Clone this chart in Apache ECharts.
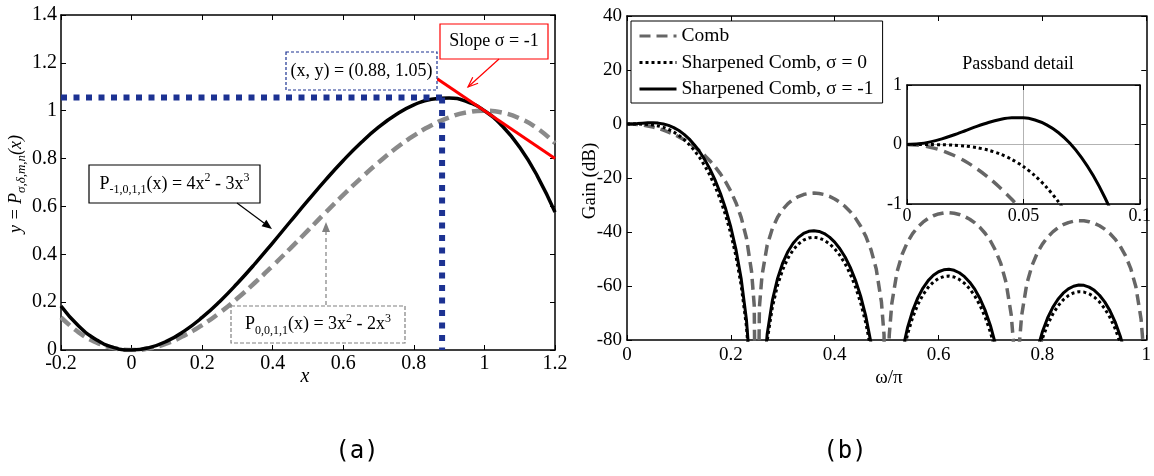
<!DOCTYPE html>
<html>
<head>
<meta charset="utf-8">
<script src="https://cdn.jsdelivr.net/npm/echarts@6/dist/echarts.min.js"></script>
<style>
html, body { margin: 0; padding: 0; background: #fff; }
#main { width: 1154px; height: 476px; }
</style>
</head>
<body>
<div id="main"></div>
<script>
// (a) sharpening polynomials
var xA = [-0.2, -0.15, -0.1, -0.05, 0, 0.05, 0.1, 0.15, 0.2, 0.25, 0.3, 0.35, 0.4, 0.45, 0.5, 0.55, 0.6, 0.65, 0.7, 0.75, 0.8, 0.85, 0.9, 0.95, 1, 1.05, 1.1, 1.15, 1.2];
var yPm1 = [0.184, 0.100, 0.043, 0.010, 0, 0.010, 0.037, 0.080, 0.136, 0.203, 0.279, 0.361, 0.448, 0.537, 0.625, 0.711, 0.792, 0.866, 0.931, 0.984, 1.024, 1.048, 1.053, 1.038, 1.000, 0.937, 0.847, 0.727, 0.576];
var yP0 = [0.136, 0.074, 0.032, 0.008, 0, 0.007, 0.028, 0.061, 0.104, 0.156, 0.216, 0.282, 0.352, 0.425, 0.500, 0.575, 0.648, 0.718, 0.784, 0.844, 0.896, 0.939, 0.972, 0.993, 1.000, 0.992, 0.968, 0.926, 0.864];
var refPoint = [0.88, 1.055];
var slopeX = [0.866, 1.2];
var slopeY = [1.134, 0.8];

// (b) comb responses, dB
var omega = [0, 0.01, 0.02, 0.03, 0.04, 0.05, 0.06, 0.07, 0.08, 0.09, 0.1, 0.11, 0.12, 0.13, 0.14, 0.15, 0.16, 0.17, 0.18, 0.19, 0.2, 0.21, 0.22, 0.23, 0.24, 0.245, 0.25, 0.255,
  0.26, 0.27, 0.28, 0.29, 0.3, 0.31, 0.32, 0.33, 0.34, 0.35, 0.36, 0.37, 0.38, 0.39, 0.4, 0.41, 0.42, 0.43, 0.44, 0.45, 0.46, 0.47, 0.48, 0.49, 0.495, 0.5, 0.505,
  0.51, 0.52, 0.53, 0.54, 0.55, 0.56, 0.57, 0.58, 0.59, 0.6, 0.61, 0.62, 0.63, 0.64, 0.65, 0.66, 0.67, 0.68, 0.69, 0.7, 0.71, 0.72, 0.73, 0.74, 0.745, 0.75, 0.755,
  0.76, 0.77, 0.78, 0.79, 0.8, 0.81, 0.82, 0.83, 0.84, 0.85, 0.86, 0.87, 0.88, 0.89, 0.9, 0.91, 0.92, 0.93, 0.94, 0.95, 0.96, 0.97, 0.98, 0.99, 0.995, 1];
var gainComb = [0, -0.045, -0.181, -0.407, -0.727, -1.140, -1.653, -2.266, -2.986, -3.817, -4.769, -5.848, -7.067, -8.439, -9.983, -11.72, -13.69, -15.92, -18.48, -21.44, -24.95, -29.23, -34.68, -42.23, -54.84, -67.2, -160, -67.84,
  -56.16, -44.87, -38.65, -34.55, -31.64, -29.51, -27.97, -26.86, -26.13, -25.72, -25.60, -25.74, -26.15, -26.82, -27.76, -29.00, -30.56, -32.49, -34.88, -37.86, -41.63, -46.61, -53.71, -65.91, -78.05, -160, -78.32,
  -66.45, -54.81, -48.25, -43.82, -40.60, -38.18, -36.35, -34.97, -33.98, -33.31, -32.95, -32.86, -33.04, -33.49, -34.23, -35.26, -36.62, -38.36, -40.56, -43.35, -46.94, -51.75, -58.69, -70.71, -82.77, -160, -82.89,
  -70.94, -59.14, -52.42, -47.85, -44.48, -41.92, -39.95, -38.44, -37.31, -36.51, -36.01, -35.79, -35.85, -36.17, -36.78, -37.69, -38.93, -40.55, -42.63, -45.30, -48.78, -53.46, -60.29, -72.20, -84.2, -160];
var gainSharp0 = [0, -0.001, -0.011, -0.053, -0.160, -0.370, -0.721, -1.249, -1.988, -2.968, -4.218, -5.763, -7.634, -9.862, -12.49, -15.55, -19.12, -23.27, -28.13, -33.85, -40.70, -49.12, -59.92, -74.97, -100.1, -124.9, -160, -126.1,
  -102.8, -80.2, -67.83, -59.66, -53.88, -49.68, -46.63, -44.45, -43.01, -42.20, -41.96, -42.25, -43.05, -44.37, -46.23, -48.67, -51.75, -55.59, -60.33, -66.25, -73.76, -83.67, -97.9, -122.3, -146.6, -160, -147.1,
  -123.4, -100.1, -86.95, -78.13, -71.71, -66.89, -63.24, -60.51, -58.53, -57.21, -56.48, -56.31, -56.67, -57.57, -59.02, -61.07, -63.78, -67.25, -71.64, -77.20, -84.34, -93.95, -107.8, -131.9, -156, -160, -156,
  -132.3, -108.7, -95.3, -86.15, -79.46, -74.35, -70.41, -67.40, -65.15, -63.56, -62.57, -62.14, -62.25, -62.90, -64.10, -65.91, -68.38, -71.61, -75.76, -81.09, -88.01, -97.4, -111.0, -134.9, -158.9, -160];
var gainSharpM1 = [0, 0.044, 0.159, 0.304, 0.420, 0.448, 0.330, 0.020, -0.522, -1.328, -2.427, -3.842, -5.603, -7.737, -10.28, -13.28, -16.80, -20.91, -25.72, -31.42, -38.24, -46.64, -57.44, -72.47, -97.6, -122.4, -160, -123.6,
  -100.3, -77.75, -65.34, -57.18, -51.40, -47.21, -44.16, -41.99, -40.55, -39.74, -39.50, -39.79, -40.59, -41.90, -43.76, -46.19, -49.27, -53.10, -57.85, -63.76, -71.27, -81.17, -95.4, -119.8, -144.1, -160, -144.6,
  -120.9, -97.57, -84.45, -75.63, -69.22, -64.40, -60.75, -58.02, -56.04, -54.73, -54.00, -53.83, -54.19, -55.09, -56.54, -58.58, -61.29, -64.76, -69.14, -74.70, -81.84, -91.45, -105.3, -129.4, -153.5, -160, -153.7,
  -129.8, -106.2, -92.8, -83.65, -76.97, -71.85, -67.92, -64.91, -62.66, -61.07, -60.08, -59.65, -59.76, -60.41, -61.61, -63.42, -65.88, -69.12, -73.27, -78.59, -85.51, -94.9, -108.5, -132.4, -156.4, -160];

// passband detail, finer steps
var omegaFine = [0, 0.005, 0.01, 0.015, 0.02, 0.025, 0.03, 0.035, 0.04, 0.045, 0.05, 0.055, 0.06, 0.065, 0.07, 0.075, 0.08, 0.085, 0.09, 0.095, 0.1];
var combFine = [0, -0.011, -0.045, -0.102, -0.181, -0.282, -0.407, -0.555, -0.727, -0.921, -1.140, -1.384, -1.653, -1.946, -2.266, -2.612, -2.986, -3.387, -3.817, -4.278, -4.769];
var sharp0Fine = [0, 0, -0.001, -0.004, -0.011, -0.026, -0.053, -0.096, -0.160, -0.250, -0.370, -0.526, -0.721, -0.961, -1.249, -1.591, -1.988, -2.447, -2.968, -3.558, -4.218];
var sharpM1Fine = [0, 0.011, 0.044, 0.095, 0.159, 0.231, 0.304, 0.370, 0.420, 0.449, 0.448, 0.411, 0.330, 0.202, 0.020, -0.220, -0.522, -0.891, -1.328, -1.840, -2.427];

var names = ['Comb', 'Sharpened Comb, σ = 0', 'Sharpened Comb, σ = -1'];

var serif = '"Liberation Serif", "Times New Roman", serif';
var blue = '#1c3292';

function pairs(xs, ys) {
  return xs.map(function (x, i) { return [x, ys[i]]; });
}

// value axis in matlab style, ticks inside
function axis(grid, pos, min, max, step, fs, margin, labels, split) {
  return {
    type: 'value', gridIndex: grid, position: pos, min: min, max: max, interval: step,
    axisLine: { show: true, onZero: false, lineStyle: { color: '#000', width: 1.5 } },
    axisTick: { show: true, inside: true, length: 5, lineStyle: { color: '#000', width: 1 } },
    axisLabel: { show: labels, margin: margin, color: '#000', fontFamily: serif, fontSize: fs },
    splitLine: { show: !!split, lineStyle: { color: '#a0a0a0', width: 0.8 } }
  };
}

function line(name, data, xi, color, width, type, smooth) {
  return {
    name: name, type: 'line', xAxisIndex: xi, yAxisIndex: xi, data: data,
    symbol: 'none', smooth: smooth || false, clip: true, silent: true,
    lineStyle: { color: color, width: width, type: type || 'solid' },
    itemStyle: { color: color }
  };
}

function arrow(x1, y1, x2, y2, color, dash, open) {
  var a = Math.atan2(y2 - y1, x2 - x1), h = 10, w = 4;
  var bx = x2 - h * Math.cos(a), by = y2 - h * Math.sin(a);
  var p1 = [bx + w * Math.sin(a), by - w * Math.cos(a)];
  var p2 = [bx - w * Math.sin(a), by + w * Math.cos(a)];
  var end = open ? [x2, y2] : [bx, by];
  var out = [{ type: 'line', z: 100, shape: { x1: x1, y1: y1, x2: end[0], y2: end[1] }, style: { stroke: color, lineWidth: 1.2, lineDash: dash || null } }];
  if (open) {
    out.push({ type: 'polyline', z: 100, shape: { points: [p1, [x2, y2], p2] }, style: { stroke: color, lineWidth: 1.2, fill: null } });
  } else {
    out.push({ type: 'polygon', z: 100, shape: { points: [[x2, y2], p1, p2] }, style: { fill: color } });
  }
  return out;
}

var richSub = {
  s: { fontSize: 12, lineHeight: 12, verticalAlign: 'bottom', fontFamily: serif },
  p: { fontSize: 12, lineHeight: 12, verticalAlign: 'top', fontFamily: serif }
};

function box(x, y, w, h, color, dash, text) {
  return [
    { type: 'rect', z: 100, shape: { x: x, y: y, width: w, height: h }, style: { fill: '#fff', stroke: color, lineWidth: 1.2, lineDash: dash || null } },
    { type: 'text', z: 101, x: x + w / 2, y: y + h / 2, style: { text: text, x: 0, y: 0, align: 'center', verticalAlign: 'middle', fill: '#000', fontFamily: serif, fontSize: 18, lineHeight: 24, rich: richSub } }
  ];
}

function label(x, y, text, size, opts) {
  opts = opts || {};
  return {
    type: 'text', z: 101, x: x, y: y, rotation: opts.rot || 0,
    style: { text: text, x: 0, y: 0, align: 'center', verticalAlign: 'middle', fill: '#000', fontFamily: opts.font || serif, fontSize: size, fontStyle: opts.italic ? 'italic' : 'normal', lineHeight: 24, rich: opts.rich || null }
  };
}

var graphics = []
  .concat(box(440, 24, 108, 35, '#ff0000', null, 'Slope σ = -1'))
  .concat(box(286, 52, 151, 38, blue, [3, 2], '(x, y) = (0.88, 1.05)'))
  .concat(box(89, 165, 171, 38, '#000', null, 'P{s|-1,0,1,1}(x) = 4x{p|2} - 3x{p|3}'))
  .concat(box(231, 306, 174, 37, '#808080', [4, 2], 'P{s|0,0,1,1}(x) = 3x{p|2} - 2x{p|3}'))
  .concat(arrow(499, 59, 468, 87, '#ff0000', null, true))
  .concat(arrow(237, 203, 272, 229, '#000'))
  .concat(arrow(326, 305, 326, 222, '#808080', [4, 3]))
  .concat([
    label(16, 184, 'y = P{s|σ,δ,m,n}(x)', 18, { rot: Math.PI / 2, italic: true, rich: {
      s: { fontSize: 13, lineHeight: 13, verticalAlign: 'bottom', fontStyle: 'italic', fontFamily: serif } } }),
    label(305, 377, 'x', 20, { italic: true }),
    label(590, 181, 'Gain (dB)', 19, { rot: Math.PI / 2 }),
    label(889, 378, 'ω/π', 19),
    label(1018, 64, 'Passband detail', 18),
    label(357, 452, '(a)', 24, { font: '"DejaVu Sans Mono", monospace' }),
    label(845, 452, '(b)', 24, { font: '"DejaVu Sans Mono", monospace' })
  ]);

var chart = echarts.init(document.getElementById('main'), null, { renderer: 'canvas' });

var option = {
  backgroundColor: '#ffffff',
  animation: false,
  grid: [
    { left: 61, top: 15, width: 494, height: 335 },
    { left: 627, top: 16, width: 525, height: 324 },
    { left: 907, top: 85, width: 240, height: 119, show: true, backgroundColor: '#fff', borderWidth: 0 }
  ],
  xAxis: [
    axis(0, 'bottom', -0.2, 1.2, 0.2, 20, 4, true),
    axis(0, 'top', -0.2, 1.2, 0.2, 20, 4, false),
    axis(1, 'bottom', 0, 1, 0.2, 19, 6, true),
    axis(1, 'top', 0, 1, 0.2, 19, 6, false),
    axis(2, 'bottom', 0, 0.1, 0.05, 18, 3, true, true),
    axis(2, 'top', 0, 0.1, 0.05, 18, 3, false)
  ],
  yAxis: [
    axis(0, 'left', 0, 1.4, 0.2, 20, 4, true),
    axis(0, 'right', 0, 1.4, 0.2, 20, 4, false),
    axis(1, 'left', -80, 40, 20, 19, 5, true),
    axis(1, 'right', -80, 40, 20, 19, 5, false),
    axis(2, 'left', -1, 1, 1, 18, 5, true, true),
    axis(2, 'right', -1, 1, 1, 18, 5, false)
  ],
  legend: {
    data: names, orient: 'vertical', left: 631, top: 21,
    padding: [5, 9, 4, 7], itemWidth: 37, itemHeight: 14, itemGap: 6.5,
    borderColor: '#000', borderWidth: 1, backgroundColor: '#fff',
    itemStyle: { opacity: 0 },
    lineStyle: { width: 3 },
    textStyle: { fontFamily: serif, fontSize: 19.5, color: '#000', lineHeight: 20 }
  },
  series: [
    line('a0', pairs(xA, yP0), 0, '#8a8a8a', 4.5, [12, 6], true),
    line('a1', pairs(xA, yPm1), 0, '#000', 3.5, 'solid', true),
    line('refH', [[xA[0], refPoint[1]], refPoint], 0, blue, 6, [6, 6.5]),
    line('refV', [refPoint, [refPoint[0], 0]], 0, blue, 6, [6, 6.5]),
    line('slope', pairs(slopeX, slopeY), 0, '#ff0000', 3),

    line(names[0], pairs(omega, gainComb), 2, '#666', 3.5, [11, 6]),
    line(names[2], pairs(omega, gainSharpM1), 2, '#000', 3),
    line(names[1], pairs(omega, gainSharp0), 2, '#000', 3, [3, 3]),

    line(names[0], pairs(omegaFine, combFine), 4, '#666', 3.5, [12, 7], 0.3),
    line(names[2], pairs(omegaFine, sharpM1Fine), 4, '#000', 3, 'solid', 0.3),
    line(names[1], pairs(omegaFine, sharp0Fine), 4, '#000', 3, [3, 3], 0.3)
  ],
  graphic: graphics
};

chart.setOption(option);
</script>
</body>
</html>
